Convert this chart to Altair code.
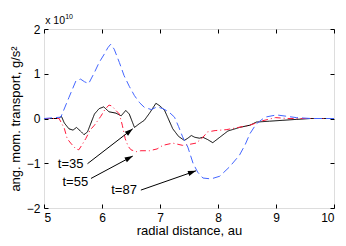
import altair as alt
import pandas as pd

# ---- data ----
x35 = [5.0, 5.25, 5.3, 5.35, 5.43, 5.5, 5.56, 5.62, 5.69, 5.75, 5.87, 5.95, 6.03, 6.12, 6.24, 6.33,
       6.41, 6.47, 6.56, 6.64, 6.73, 6.82, 6.93, 7.0, 7.08, 7.22, 7.32, 7.42, 7.48, 7.54, 7.6, 7.68,
       7.74, 7.82, 7.91, 8.03, 8.17, 8.37, 8.55, 8.66, 8.89, 9.12, 9.35, 9.6, 10.0]
y35 = [0, 0, 0.05, -0.1, -0.23, -0.26, -0.2, -0.27, -0.36, -0.3, 0.1, 0.22, 0.26, 0.15, 0.12, 0.06,
       0.18, 0.1, -0.2, -0.12, -0.04, 0.12, 0.34, 0.28, 0.18, -0.23, -0.4, -0.49, -0.44, -0.38, -0.42, -0.44,
       -0.42, -0.47, -0.54, -0.42, -0.28, -0.2, -0.15, -0.08, -0.06, -0.04, -0.02, 0, 0]

x55 = [5.0, 5.26, 5.35, 5.4, 5.46, 5.55, 5.6, 5.65, 5.72, 5.8, 5.87, 5.98, 6.05, 6.12, 6.17, 6.24,
       6.3, 6.35, 6.4, 6.45, 6.5, 6.59, 6.67, 6.82, 6.95, 7.05, 7.22, 7.39, 7.5, 7.62, 7.72, 7.82,
       7.95, 8.14, 8.35, 8.55, 8.77, 8.99, 9.2, 10.0]
y55 = [0, 0, -0.22, -0.45, -0.55, -0.68, -0.7, -0.6, -0.45, -0.25, -0.15, 0.05, 0.2, 0.3, 0.28, 0.18,
       0.1, -0.15, -0.45, -0.62, -0.7, -0.74, -0.72, -0.72, -0.68, -0.6, -0.55, -0.6, -0.58, -0.55, -0.45, -0.3,
       -0.27, -0.25, -0.2, -0.15, -0.05, 0.02, 0.0, 0.0]

x87 = [5.0, 5.29, 5.43, 5.55, 5.63, 5.7, 5.77, 5.87, 5.95, 6.04, 6.1, 6.15, 6.21, 6.3, 6.38, 6.47,
       6.56, 6.65, 6.73, 6.85, 6.95, 7.05, 7.15, 7.25, 7.32, 7.39, 7.48, 7.57, 7.65, 7.74, 7.88, 8.03,
       8.2, 8.37, 8.47, 8.55, 8.66, 8.81, 9.01, 9.18, 9.35, 9.6, 10.0]
y87 = [0, 0.03, 0.47, 0.84, 0.88, 0.82, 0.78, 1.03, 1.25, 1.44, 1.58, 1.66, 1.55, 1.25, 0.96, 0.72,
       0.51, 0.35, 0.25, 0.2, 0.26, 0.22, 0.15, 0.03, -0.18, -0.41, -0.64, -1.0, -1.2, -1.33, -1.35, -1.29,
       -1.08, -0.82, -0.58, -0.34, -0.12, 0.03, 0.08, 0.05, 0.02, 0.0, 0.0]

series_names = ["t=35", "t=55", "t=87"]
series_colors = ["#000000", "#ff1a3c", "#4466ff"]
series_dash = [[1, 0], [6, 3, 1, 3], [8, 4]]

x_ticks = [5, 6, 7, 8, 9, 10]
y_ticks = [-2, -1, 0, 1, 2]

# annotations: label text positions, arrow start/end (data units), arrow angle
ann_text = ["t=35", "t=55", "t=87"]
ann_tx = [5.46, 5.54, 6.38]
ann_ty = [-1.01, -1.43, -1.6]
arr_x0 = [5.75, 5.81, 6.67]
arr_y0 = [-1.01, -1.34, -1.6]
arr_x1 = [6.53, 6.53, 7.62]
arr_y1 = [-0.23, -0.84, -1.17]
arr_angle = [52, 62, 71]

FONT = "Liberation Sans"

rows = []
for name, xs, ys in zip(series_names, [x35, x55, x87], [y35, y55, y87]):
    for a, b in zip(xs, ys):
        rows.append({"series": name, "r": a, "v": b})
df = pd.DataFrame(rows)

ann = pd.DataFrame({"text": ann_text, "tx": ann_tx, "ty": ann_ty,
                    "x0": arr_x0, "y0": arr_y0, "x1": arr_x1, "y1": arr_y1, "ang": arr_angle})

xscale = alt.Scale(domain=[5, 10], nice=False, zero=False)
yscale = alt.Scale(domain=[-2, 2], nice=False, zero=False)

axis_common = dict(domain=False, grid=False, tickColor="black", tickSize=4, offset=-4,
                   labelFont=FONT, labelFontSize=12, labelColor="black", labelPadding=4,
                   titleFont=FONT, titleFontSize=13, titleColor="black", titleFontWeight="normal")

x_bottom = alt.Axis(values=x_ticks, orient="bottom", title="radial distance, au", titlePadding=1,
                    **axis_common)
y_left = alt.Axis(values=y_ticks, orient="left", title="ang. mom. transport, g/s²", titlePadding=4,
                  **axis_common)
x_top = alt.Axis(values=x_ticks, orient="top", labels=False, title=None, domain=False, grid=False,
                 tickColor="black", tickSize=4, offset=-4)
y_right = alt.Axis(values=y_ticks, orient="right", labels=False, title=None, domain=False, grid=False,
                   tickColor="black", tickSize=4, offset=-4)


def X(f):
    return alt.X(f, type="quantitative", scale=xscale, axis=None)


def Y(f):
    return alt.Y(f, type="quantitative", scale=yscale, axis=None)


lines = alt.Chart(df).mark_line(strokeWidth=1).encode(
    x=alt.X("r:Q", scale=xscale, axis=x_bottom),
    y=alt.Y("v:Q", scale=yscale, axis=y_left),
    color=alt.Color("series:N", scale=alt.Scale(domain=series_names, range=series_colors), legend=None),
    strokeDash=alt.StrokeDash("series:N", scale=alt.Scale(domain=series_names, range=series_dash), legend=None),
    detail="series:N",
)

mirror = alt.Chart(df).mark_point(opacity=0).encode(
    x=alt.X("r:Q", scale=xscale, axis=x_top),
    y=alt.Y("v:Q", scale=yscale, axis=y_right),
)

arrows = alt.Chart(ann).mark_rule(color="black", strokeWidth=1).encode(
    x=X("x0"), y=Y("y0"), x2="x1:Q", y2="y1:Q"
)
heads = alt.Chart(ann).mark_point(
    shape="M0,0 L-0.33,1 L0.33,1 Z", filled=True, color="black", opacity=1, size=256
).encode(x=X("x1"), y=Y("y1"), angle=alt.Angle("ang:Q", scale=None))

labels = alt.Chart(ann).mark_text(font=FONT, fontSize=13, color="black", align="center",
                                  baseline="middle").encode(x=X("tx"), y=Y("ty"), text="text:N")

expo_df = pd.DataFrame({"ex": [5.02], "ey": [2.11], "t": ["x 10"]})
expo_sup = pd.DataFrame({"ex": [5.365], "ey": [2.23], "t": ["10"]})
expo = alt.Chart(expo_df).mark_text(font=FONT, fontSize=10.5, color="black", align="left",
                                    baseline="alphabetic", clip=False).encode(x=X("ex"), y=Y("ey"), text="t:N")
sup = alt.Chart(expo_sup).mark_text(font=FONT, fontSize=7, color="black", align="left",
                                    baseline="alphabetic", clip=False).encode(x=X("ex"), y=Y("ey"), text="t:N")

chart = alt.layer(lines, mirror, arrows, heads, labels, expo, sup).resolve_axis(
    x="independent", y="independent"
).properties(
    width=290, height=179,
    autosize=alt.AutoSizeParams(type="none"),
    padding={"left": 36, "top": 21, "right": 4, "bottom": 30},
).configure_view(stroke="black", strokeWidth=1).configure(background="white")

chart.save("out.html", embed_options={"renderer": "svg", "actions": False})
